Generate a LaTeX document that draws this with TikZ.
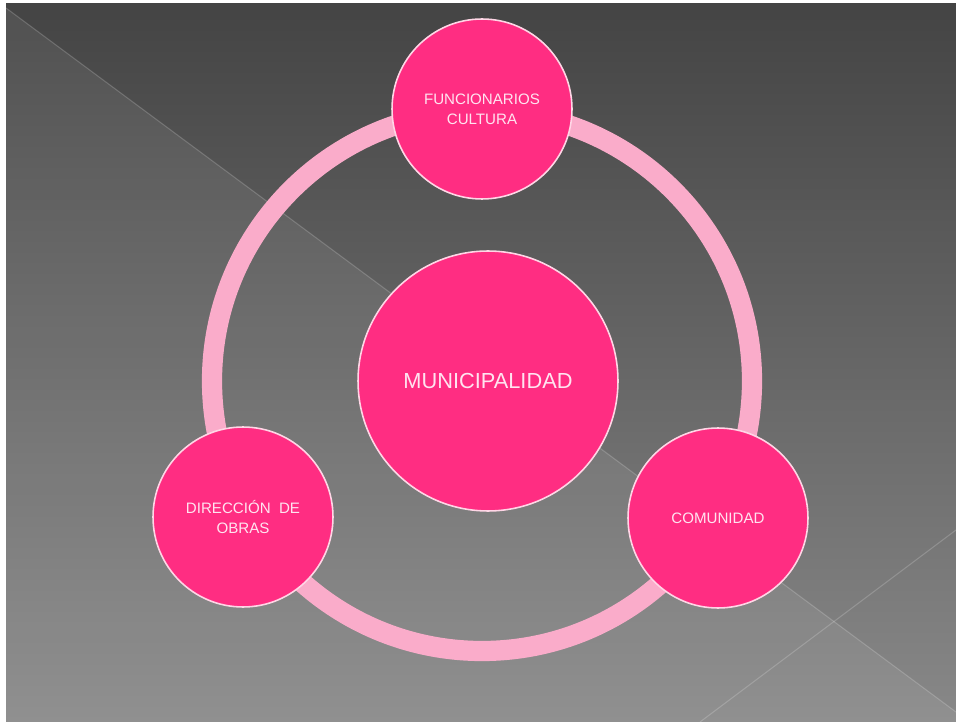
\documentclass[tikz,border=0pt]{standalone}
\usepackage{fontspec}
\setmainfont{Liberation Sans}
\usepackage{tikz}
\usetikzlibrary{calc}
\definecolor{mun_pink}{RGB}{255, 45, 130}
\definecolor{mun_ring}{RGB}{250, 172, 202}
\definecolor{mun_edge}{RGB}{255, 214, 230}
\definecolor{mun_text}{RGB}{255, 228, 240}
\definecolor{bg_top}{RGB}{68, 68, 68}
\definecolor{bg_bot}{RGB}{136, 136, 136}
\tikzstyle{pn}=[circle,fill=mun_pink,draw=mun_edge,line width=0.9pt,
  inner sep=0pt,align=center,text=mun_text,minimum size=3.6cm,
  font=\fontsize{8.6}{11.5}\selectfont]
\tikzstyle{bn}=[pn,minimum size=5.2cm,font=\fontsize{12.4}{14}\selectfont]
\tikzstyle{ring}=[draw=mun_ring,line width=11.5pt]
\tikzstyle{none}=[]

\begin{document}
\begin{tikzpicture}[x=0.02cm,y=-0.02cm]
            \useasboundingbox (0,0) rectangle (956,722);
            % background
            \fill[white] (0,0) rectangle (956,722);
            \shade[top color=bg_top,bottom color=bg_bot] (6,4) rectangle (956,722);
            \fill[white,opacity=0.07] (6,8) -- (956,712) -- (956,722) -- (6,722) -- cycle;
            \draw[white,opacity=0.18,line width=0.6pt] (6,8) -- (956,712);
            \draw[white,opacity=0.18,line width=0.6pt] (956,530) -- (700,722);
            % ring
            \coordinate (c) at (482,381);
            \draw [style=ring] (c) circle [radius=270];
            % circles
            \node [style=bn] (0) at (488,381) {MUNICIPALIDAD};
            \node [style=pn] (1) at (482,109) {FUNCIONARIOS\\CULTURA};
            \node [style=pn] (2) at (243,517) {DIRECCIÓN~ DE\\OBRAS};
            \node [style=pn] (3) at (718,518) {COMUNIDAD};
    \end{tikzpicture}
\end{document}
